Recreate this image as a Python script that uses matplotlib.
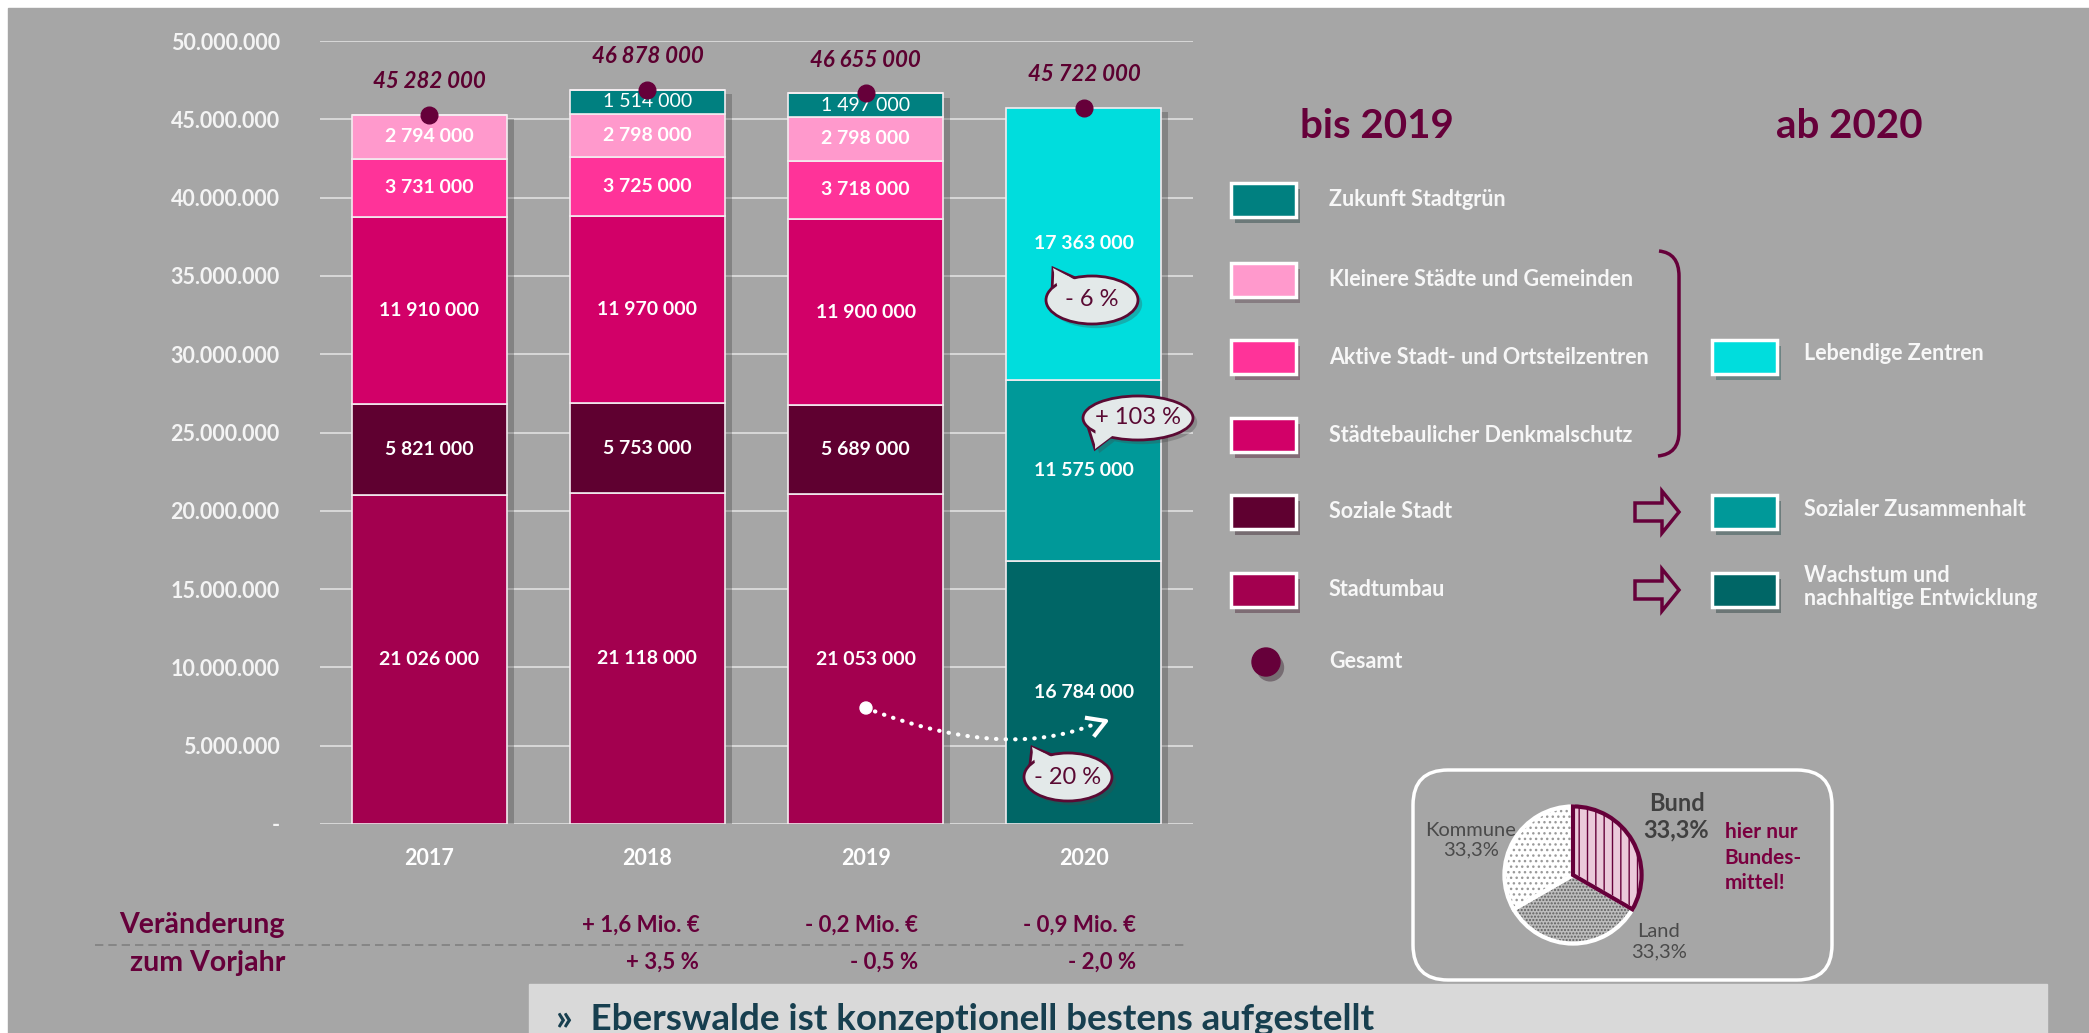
import matplotlib
matplotlib.use("Agg")
import numpy as np
import matplotlib.pyplot as plt
import matplotlib.patheffects as pe
from matplotlib.patches import Rectangle, Circle, Ellipse, Polygon, FancyBboxPatch, FancyArrow, PathPatch
from matplotlib.path import Path
from matplotlib.lines import Line2D
from matplotlib.transforms import Affine2D

plt.rcParams['font.family'] = ['Lato', 'DejaVu Sans']

W, H = 2089, 1033

years = ["2017", "2018", "2019", "2020"]

# programmes until 2019 (stacked bottom -> top)
stadtumbau = [21026000, 21118000, 21053000, 0]
soziale_stadt = [5821000, 5753000, 5689000, 0]
denkmalschutz = [11910000, 11970000, 11900000, 0]
aktive_zentren = [3731000, 3725000, 3718000, 0]
kleinere_staedte = [2794000, 2798000, 2798000, 0]
stadtgruen = [0, 1514000, 1497000, 0]
# programmes from 2020
wachstum = [0, 0, 0, 16784000]
zusammenhalt = [0, 0, 0, 11575000]
lebendige_zentren = [0, 0, 0, 17363000]

gesamt = [45282000, 46878000, 46655000, 45722000]

change_mio = ["", "+ 1,6 Mio. €", "- 0,2 Mio. €", "- 0,9 Mio. €"]
change_pct = ["", "+ 3,5 %", "- 0,5 %", "- 2,0 %"]

pie_labels = ["Bund", "Land", "Kommune"]
pie_shares = [33.3, 33.3, 33.3]

MAROON = "#66003A"
BG = "#A6A6A6"
BUBBLE = "#E3E9E9"

series = [
    ("Stadtumbau", stadtumbau, "#A3004F", "bold"),
    ("Soziale Stadt", soziale_stadt, "#5F0030", "bold"),
    ("Städtebaulicher Denkmalschutz", denkmalschutz, "#D20068", "bold"),
    ("Aktive Stadt- und Ortsteilzentren", aktive_zentren, "#FF3399", "bold"),
    ("Kleinere Städte und Gemeinden", kleinere_staedte, "#FF99CC", "bold"),
    ("Zukunft Stadtgrün", stadtgruen, "#008080", "normal"),
    ("Wachstum und\nnachhaltige Entwicklung", wachstum, "#006666", "bold"),
    ("Sozialer Zusammenhalt", zusammenhalt, "#009999", "bold"),
    ("Lebendige Zentren", lebendige_zentren, "#00DDDD", "bold"),
]
colors = {name: col for name, _, col, _ in series}


def fmt_space(v):
    return f"{int(v):,}".replace(",", " ")


fig = plt.figure(figsize=(W / 100, H / 100), dpi=100)
fig.patch.set_facecolor("white")
# pixel coordinates measured from the top left corner
PX = Affine2D().scale(1, -1).translate(0, H)
fig.add_artist(Rectangle((8, 8), W, H, transform=PX, color=BG, zorder=-10))

ax = fig.add_axes([320 / W, 1 - 824 / H, (1193 - 320) / W, (824 - 41) / H])
ax.set_facecolor("none")
x = np.arange(len(years))
bw = 0.71

# shadow behind the stacks
ax.bar(x, gesamt, width=bw, color=BG, zorder=2,
       path_effects=[pe.SimplePatchShadow(offset=(5, -3), alpha=0.3)])

bottom = np.zeros(len(years))
for name, vals, col, weight in series:
    vals = np.array(vals, dtype=float)
    bars = ax.bar(x, vals, width=bw, bottom=bottom, color=col,
                  edgecolor="#F3ECF0", linewidth=1.2, zorder=3)
    for b, v, b0 in zip(bars, vals, bottom):
        if v > 0:
            ax.text(b.get_x() + b.get_width() / 2, b0 + v / 2, fmt_space(v),
                    ha="center", va="center", color="white", fontsize=14,
                    fontweight=weight, zorder=6)
    bottom += vals

ax.plot(x, gesamt, "o", ms=12, color=MAROON, linestyle="none", zorder=7)
for xi, g in zip(x, gesamt):
    ax.annotate(fmt_space(g), (xi, g), xytext=(0, 24), textcoords="offset points",
                ha="center", va="center", fontsize=16, fontweight="bold",
                fontstyle="italic", color="#5C0030", zorder=7)

ax.set_xlim(-0.5, 3.5)
ax.set_ylim(0, 50000000)
ax.set_yticks(np.arange(0, 50000001, 5000000))
ax.set_yticklabels(["-" if v == 0 else f"{int(v):,}".replace(",", ".")
                    for v in np.arange(0, 50000001, 5000000)])
ax.set_xticks(x)
ax.set_xticklabels(years)
ax.tick_params(axis="y", length=0, pad=29, labelsize=15.5, labelcolor="#F4F4F4")
ax.tick_params(axis="x", length=0, pad=17, labelsize=15.5, labelcolor="white")
for lab in ax.get_xticklabels() + ax.get_yticklabels():
    lab.set_fontweight("bold")
ax.yaxis.grid(True, color="#DCDCDC", linewidth=1.3)
ax.set_axisbelow(True)
for s in ax.spines.values():
    s.set_visible(False)

# change vs. previous year
for xi, m, p in zip(x, change_mio, change_pct):
    if m:
        ax.annotate(m, (xi, H - 925), xycoords=("data", "figure pixels"), xytext=(52, 0),
                    textcoords="offset pixels", ha="right", va="center", fontsize=16,
                    fontweight="bold", color=MAROON, annotation_clip=False)
        ax.annotate(p, (xi, H - 962), xycoords=("data", "figure pixels"), xytext=(52, 0),
                    textcoords="offset pixels", ha="right", va="center", fontsize=16,
                    fontweight="bold", color=MAROON, annotation_clip=False)
fig.text(285, 925, "Veränderung", transform=PX, ha="right", va="center",
         fontsize=20.5, fontweight="bold", color=MAROON)
fig.text(285, 963, "zum Vorjahr", transform=PX, ha="right", va="center",
         fontsize=20.5, fontweight="bold", color=MAROON)
fig.add_artist(Line2D([95, 1184], [945, 945], transform=PX, color="#808080",
                      lw=1.2, ls=(0, (5, 3))))

# speech bubbles
def bubble(cx, cy, a, b, t1, t2, tip, txt):
    th = np.radians([t1, t2])
    base = [(cx + a * np.cos(t), cy - b * np.sin(t)) for t in th]
    inner = [(cx + 0.85 * a * np.cos(t), cy - 0.85 * b * np.sin(t)) for t in th]
    shadow = [pe.SimplePatchShadow(offset=(3, -3), alpha=0.3), pe.Normal()]
    fig.add_artist(Polygon([base[0], tip, base[1]], closed=True, transform=PX,
                           fc=BUBBLE, ec="#5A0A33", lw=2, zorder=10, path_effects=shadow))
    fig.add_artist(Ellipse((cx, cy), 2 * a, 2 * b, transform=PX, fc=BUBBLE,
                           ec="#5A0A33", lw=2, zorder=11, path_effects=shadow))
    fig.add_artist(Polygon([inner[0], tip, inner[1]], closed=True, transform=PX,
                           fc=BUBBLE, ec="none", zorder=12))
    fig.text(cx, cy, txt, transform=PX, ha="center", va="center", fontsize=17,
             color="#5A0A33", zorder=13)


bubble(1092, 300, 46, 24, 112, 150, (1053, 268), "- 6 %")
bubble(1138, 418, 55, 22, 205, 240, (1095, 449), "+ 103 %")
bubble(1068, 777, 44, 24, 112, 150, (1032, 747), "- 20 %")

# dotted arrow Stadtumbau -> Wachstum
t = np.linspace(0, 1, 80)[:, None]
P0, C, P2 = np.array([866, 708]), np.array([1005, 762]), np.array([1097, 723])
pts = (1 - t) ** 2 * P0 + 2 * (1 - t) * t * C + t ** 2 * P2
fig.add_artist(Line2D(pts[:, 0], pts[:, 1], transform=PX, color="white", lw=3,
                      ls=(0, (0.1, 2.2)), dash_capstyle="round", zorder=8))
fig.add_artist(Line2D([1087, 1106, 1095], [718, 721, 735], transform=PX,
                      color="white", lw=3, zorder=8))
fig.add_artist(Circle((866, 708), 6, transform=PX, color="white", zorder=8))

# legend
fig.text(1377, 126, "bis 2019", transform=PX, ha="center", va="center",
         fontsize=29, fontweight="bold", color=MAROON)
fig.text(1849, 126, "ab 2020", transform=PX, ha="center", va="center",
         fontsize=29, fontweight="bold", color=MAROON)
sq_shadow = [pe.SimplePatchShadow(offset=(3, -4), alpha=0.35), pe.Normal()]
left_items = ["Zukunft Stadtgrün", "Kleinere Städte und Gemeinden",
              "Aktive Stadt- und Ortsteilzentren", "Städtebaulicher Denkmalschutz",
              "Soziale Stadt", "Stadtumbau"]
rows = [200, 280, 357, 435, 512, 590]
for name, cy in zip(left_items, rows):
    fig.add_artist(Rectangle((1231, cy - 17), 65, 34, transform=PX, fc=colors[name],
                             ec="white", lw=2.5, path_effects=sq_shadow))
    fig.text(1329, cy, name, transform=PX, ha="left", va="center", fontsize=15.5,
             fontweight="bold", color="#F7F7F7")
right_items = [("Lebendige Zentren", 357), ("Sozialer Zusammenhalt", 512),
               ("Wachstum und\nnachhaltige Entwicklung", 590)]
for name, cy in right_items:
    fig.add_artist(Rectangle((1712, cy - 17), 65, 34, transform=PX, fc=colors[name],
                             ec="white", lw=2.5, path_effects=sq_shadow))
    fig.text(1804, cy - 3, name, transform=PX, ha="left", va="center", fontsize=15.5,
             fontweight="bold", color="#F7F7F7", linespacing=1.15)
fig.add_artist(Circle((1266, 662), 14, transform=PX, color=MAROON, path_effects=sq_shadow))
fig.text(1329, 662, "Gesamt", transform=PX, ha="left", va="center", fontsize=15.5,
         fontweight="bold", color="#F7F7F7")

verts = [(1659, 251), (1679, 253), (1679, 276), (1679, 432), (1679, 454), (1658, 456)]
codes = [Path.MOVETO, Path.CURVE3, Path.CURVE3, Path.LINETO, Path.CURVE3, Path.CURVE3]
fig.add_artist(PathPatch(Path(verts, codes), transform=PX, fc="none", ec=MAROON, lw=2.5))
for cy in (512, 590):
    fig.add_artist(FancyArrow(1635, cy, 44, 0, width=18, head_width=42, head_length=17,
                              length_includes_head=True, transform=PX, fc="none",
                              ec=MAROON, lw=2.5))

# funding shares pie
fig.add_artist(FancyBboxPatch((1413, 770), 419, 210, boxstyle="round,pad=0,rounding_size=35",
                              transform=PX, fc="none", ec="white", lw=2.5))
pax = fig.add_axes([(1573 - 72) / W, (H - 875 - 72) / H, 144 / W, 144 / H])
wedges, _ = pax.pie(pie_shares, startangle=90, counterclock=False, radius=1)
styles = [("#EBC9DA", "||", MAROON), ("#BDBDBD", ".....", "#5E5E5E"), ("white", "...", "#9A9A9A")]
for w, (fc, hatch, hc) in zip(wedges, styles):
    w.set_facecolor(fc)
    w.set_hatch(hatch)
    w.set_edgecolor(hc)
    w.set_linewidth(0)
outline, _ = pax.pie(pie_shares, startangle=90, counterclock=False, radius=1,
                     wedgeprops=dict(fill=False, edgecolor="white", linewidth=3))
outline[0].set_edgecolor(MAROON)
outline[0].set_zorder(5)
pax.set_xlim(-1.05, 1.05)
pax.set_ylim(-1.05, 1.05)
label_pos = [(1.51, 0.85, "bold", 17, "#404040"), (1.25, -0.97, "normal", 14.5, "#4A4A4A"),
             (-1.49, 0.51, "normal", 14.5, "#4A4A4A")]
for lab, share, (lx, ly, fw, fs, c) in zip(pie_labels, pie_shares, label_pos):
    pct = f"{share / sum(pie_shares) * 100:.1f}%".replace(".", ",")
    pax.text(lx, ly, f"{lab}\n{pct}", ha="center", va="center", fontsize=fs,
             fontweight=fw, color=c, linespacing=1.2)
pax.text(2.21, 0.25, "hier nur\nBundes-\nmittel!", ha="left", va="center", fontsize=15,
         fontweight="bold", color="#7A0040", linespacing=1.35)

# banner
fig.add_artist(Rectangle((529, 984), 1518, 60, transform=PX, color="#D9D9D9", zorder=1))
fig.text(556, 1030, "»  Eberswalde ist konzeptionell bestens aufgestellt", transform=PX,
         ha="left", va="baseline", fontsize=26.5, fontweight="bold", color="#173F4F", zorder=2)

fig.savefig("out.png", dpi=100, facecolor=fig.get_facecolor())
